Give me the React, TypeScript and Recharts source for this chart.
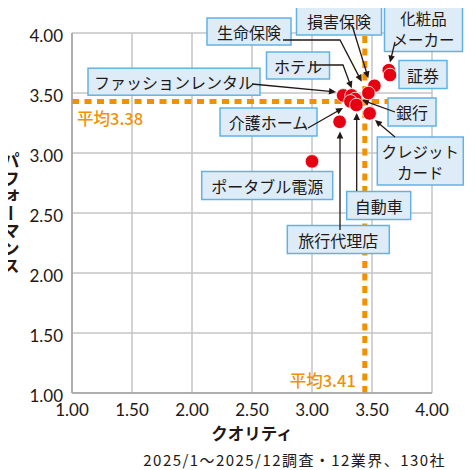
import React from 'react';
import { ScatterChart, Scatter, XAxis, YAxis, CartesianGrid, ReferenceLine } from 'recharts';

// ---- data ----
const industries = [
  '化粧品メーカー', '証券', '損害保険', '生命保険', 'ファッションレンタル', 'ホテル',
  '銀行', '介護ホーム', '自動車', 'クレジットカード', '旅行代理店', 'ポータブル電源',
];
const quality = [3.64, 3.65, 3.52, 3.47, 3.26, 3.33, 3.36, 3.32, 3.37, 3.48, 3.23, 3.0];
const performance = [3.69, 3.65, 3.56, 3.5, 3.48, 3.48, 3.45, 3.43, 3.4, 3.33, 3.26, 2.93];
const axisTicks = [1.0, 1.5, 2.0, 2.5, 3.0, 3.5, 4.0];
const avgQualityLabel = '平均3.41';
const avgPerformanceLabel = '平均3.38';
// where the average lines are drawn in the picture
const avgQualityLine = 3.44;
const avgPerformanceLine = 3.43;

const points = industries.map((name, i) => ({ name, q: quality[i], p: performance[i] }));

// ---- label layout (pixel offsets relative to each point) ----
type Layout = { b: [number, number]; w: number; h: number; lines: [string, number][]; leader: [number, number][] };
const layouts: Record<string, Layout> = {
  '化粧品メーカー': { b: [34.7, -42.2], w: 78, h: 47, lines: [['化粧品', -10], ['メーカー', 11]], leader: [[6.2, -28.2], [1.2, -7.7]] },
  '証券': { b: [33, -0.5], w: 48, h: 28, lines: [['証券', 0]], leader: [] },
  '損害保険': { b: [-35.4, -64.8], w: 85, h: 28, lines: [['損害保険', 0]], leader: [[-22.4, -60.8], [-6.1, -7.5]] },
  '生命保険': { b: [-119.4, -61.5], w: 84, h: 27, lines: [['生命保険', 0]], leader: [[-85.4, -53], [-28.4, -53], [-6.7, -11.3]] },
  'ファッションレンタル': { b: [-169.2, -13.7], w: 172, h: 27, lines: [['ファッションレンタル', 0]], leader: [[-91.2, -11.4], [-7.2, -3.4]] },
  'ホテル': { b: [-53.6, -29.9], w: 63, h: 27, lines: [['ホテル', 0]], leader: [[-41.6, -30.4], [-8.6, -30.4], [0.1, -7.1]] },
  '銀行': { b: [56.8, 13], w: 48, h: 28, lines: [['銀行', 0]], leader: [[39.8, 13], [6.8, 1]] },
  '介護ホーム': { b: [-81.9, 20.6], w: 97, h: 28, lines: [['介護ホーム', 0]], leader: [[-42.4, 26.6], [-7.4, 6.6]] },
  '自動車': { b: [22.3, 100.5], w: 64, h: 28, lines: [['自動車', 0]], leader: [[0.3, 86], [0.3, 8]] },
  'クレジットカード': { b: [50.7, 47.6], w: 86, h: 48, lines: [['クレジット', -10], ['カード', 10.5]], leader: [[25.4, 23.6], [5.4, 6.6]] },
  '旅行代理店': { b: [-1.3, 117.7], w: 102, h: 28, lines: [['旅行代理店', 0]], leader: [[0.4, 108.2], [0.4, 9.7]] },
  'ポータブル電源': { b: [-44.8, 24.1], w: 131, h: 28, lines: [['ポータブル電源', 0]], leader: [] },
};

const JP = '"Noto Sans CJK JP", "Noto Sans", sans-serif';
const NUM = 'Lato, "Noto Sans", sans-serif';
const ORANGE = '#f29100';
const INK = '#231815';

const BoxShape = (props: any) => {
  const { cx, cy, payload } = props;
  const L = layouts[payload.name];
  if (!L || cx == null) return <g />;
  const bx = cx + L.b[0];
  const by = cy + L.b[1];
  const fs = L.lines.length > 1 ? 15.5 : 16;
  return (
    <g>
      <rect x={bx - L.w / 2} y={by - L.h / 2} width={L.w} height={L.h} fill="#deecf8" stroke="#62b3e4" strokeWidth={1.5} />
      {L.lines.map(([t, dy], i) => (
        <text key={i} x={bx} y={by + dy} textAnchor="middle" dominantBaseline="central" fontFamily={JP} fontSize={fs} fill={INK}>{t}</text>
      ))}
    </g>
  );
};

const LeaderShape = (props: any) => {
  const { cx, cy, payload } = props;
  const L = layouts[payload.name];
  if (!L || cx == null || L.leader.length < 2) return <g />;
  const pts = L.leader.map(([dx, dy]) => [cx + dx, cy + dy]);
  const [tx, ty] = pts[pts.length - 1];
  const [px, py] = pts[pts.length - 2];
  const len = Math.hypot(tx - px, ty - py);
  const ux = (tx - px) / len, uy = (ty - py) / len;
  const al = 7, aw = 3.3;
  const bx = tx - ux * al, by = ty - uy * al;
  const head = `${tx},${ty} ${bx - uy * aw},${by + ux * aw} ${bx + uy * aw},${by - ux * aw}`;
  const linePts = [...pts.slice(0, -1), [bx + ux * 1, by + uy * 1]].map((p) => p.join(',')).join(' ');
  return (
    <g>
      <polyline points={linePts} fill="none" stroke={INK} strokeWidth={1.3} />
      <polygon points={head} fill={INK} />
    </g>
  );
};

const DotShape = (props: any) => {
  const { cx, cy } = props;
  if (cx == null) return <g />;
  return <circle cx={cx} cy={cy} r={6.8} fill="#e50012" stroke="#ffffff" strokeWidth={0.8} />;
};

const XTick = (props: any) => {
  const { x, y, payload } = props;
  return (
    <text x={x} y={y + 8} textAnchor="middle" dominantBaseline="central" fontFamily={NUM} fontSize={17} fill={INK}>
      {Number(payload.value).toFixed(2)}
    </text>
  );
};

const YTick = (props: any) => {
  const { x, y, payload } = props;
  return (
    <text x={x - 1} y={y + 2} textAnchor="end" dominantBaseline="central" fontFamily={NUM} fontSize={17} fill={INK}>
      {Number(payload.value).toFixed(2)}
    </text>
  );
};

const XTitle = () => (
  <g>
    <text x={252} y={433} textAnchor="middle" dominantBaseline="central" fontFamily={JP} fontWeight="bold" fontSize={16.5} fill={INK}>クオリティ</text>
    <text x={446} y={459} textAnchor="end" dominantBaseline="central" fontFamily={JP} fontSize={15} letterSpacing={1.45} fill={INK}>2025/1～2025/12調査・12業界、130社</text>
  </g>
);

const YTitle = () => (
  <text x={11} y={152} fontFamily={JP} fontWeight="bold" fontSize={17.5} fill={INK} style={{ writingMode: 'vertical-rl' as any }}>パフォーマンス</text>
);

const HLabel = (props: any) => {
  const vb = props.viewBox || {};
  return (
    <text x={(vb.x ?? 72) + 5} y={(vb.y ?? 102) + 17} dominantBaseline="central" fontFamily={JP} fontWeight={500} fontSize={16.5} fill={ORANGE}>{avgPerformanceLabel}</text>
  );
};

const VLabel = (props: any) => {
  const vb = props.viewBox || {};
  const bottom = (vb.y ?? 33) + (vb.height ?? 360);
  return (
    <text x={(vb.x ?? 364) - 9} y={bottom - 13} textAnchor="end" dominantBaseline="central" fontFamily={JP} fontWeight={500} fontSize={16.5} fill={ORANGE}>{avgQualityLabel}</text>
  );
};

export default function App() {
  return (
    <div style={{ margin: '-8px 0 0 -8px', width: 474, height: 470, background: '#fff' }}>
      <ScatterChart width={474} height={470} margin={{ top: 33, right: 42, bottom: 47, left: 0 }}>
        <CartesianGrid stroke="#c4c4c4" strokeWidth={1.5} ticks={axisTicks as any} />
        <XAxis
          type="number" dataKey="q" domain={[1, 4]} ticks={axisTicks} height={30}
          tickLine={false} axisLine={{ stroke: '#a3a3a3', strokeWidth: 1.5 }} tick={<XTick />}
          interval={0} label={{ content: <XTitle /> } as any}
        />
        <YAxis
          type="number" dataKey="p" domain={[1, 4]} ticks={axisTicks} width={72}
          tickLine={false} axisLine={{ stroke: '#a3a3a3', strokeWidth: 1.5 }} tick={<YTick />}
          interval={0} label={{ content: <YTitle /> } as any}
        />
        <ReferenceLine y={avgPerformanceLine} stroke={ORANGE} strokeWidth={5} strokeDasharray="7 5.5" label={{ content: <HLabel /> } as any} />
        <ReferenceLine x={avgQualityLine} stroke={ORANGE} strokeWidth={5} strokeDasharray="7 5.5" label={{ content: <VLabel /> } as any} />
        <Scatter data={points} shape={<BoxShape />} isAnimationActive={false} />
        <Scatter data={points} shape={<LeaderShape />} isAnimationActive={false} />
        <Scatter data={points} shape={<DotShape />} isAnimationActive={false} />
      </ScatterChart>
    </div>
  );
}
